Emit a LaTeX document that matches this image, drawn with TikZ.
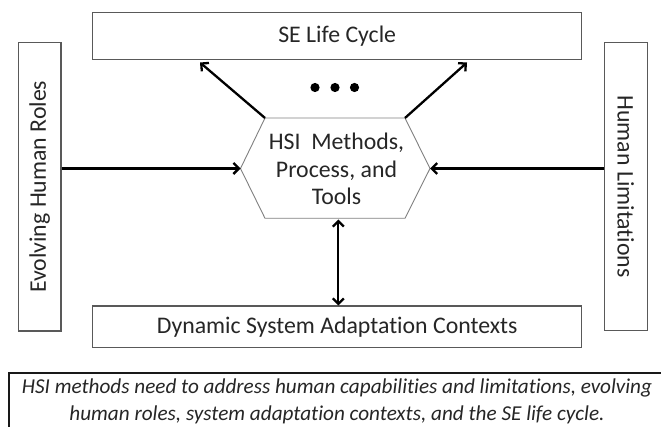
\documentclass[tikz,border=0pt]{standalone}
\usepackage{fontspec}
\setmainfont{Carlito}[Ligatures=NoCommon]
\usetikzlibrary{arrows.meta,calc}
\begin{document}
\begin{tikzpicture}[x=1pt,y=-1pt,
  box/.style={draw=black!65, line width=1.3pt, inner sep=0pt, text=black!85,
    font=\fontsize{23.8}{27.5}\selectfont},
  hexline/.style={draw=black!50, line width=0.9pt},
  arr/.style={line width=2.3pt, -{Straight Barb[length=5.5pt,width=11pt]}},
  arrboth/.style={line width=2.3pt, {Straight Barb[length=5.5pt,width=11pt]}-{Straight Barb[length=5.5pt,width=11pt]}},
  dot/.style={fill=black, draw=none}
]
\useasboundingbox (0,0) rectangle (661,427);
\fill[white] (0,0) rectangle (661,427);

% boxes
\node[box, minimum width=489pt, minimum height=46.6pt] (top) at (337.2,36) {SE Life Cycle};
\node[box, minimum width=489pt, minimum height=41.7pt] (bot) at (337.2,326.9) {Dynamic System Adaptation Contexts};
\node[box, rotate=90, minimum width=288.3pt, minimum height=42.7pt] (left) at (39.7,186.8) {Evolving Human Roles};
\node[box, rotate=-90, minimum width=288pt, minimum height=43pt] (right) at (625.8,186.7) {Human Limitations};

% hexagon
\coordinate (hl) at (240.5,168.5);
\coordinate (htl) at (265,118);
\coordinate (htr) at (405,118);
\coordinate (hr) at (430,168.5);
\coordinate (hbr) at (405,218.3);
\coordinate (hbl) at (265,218.3);
\draw[hexline] (hl) -- (htl) -- (htr) -- (hr) -- (hbr) -- (hbl) -- cycle;
\node[align=center, text=black!85, font=\fontsize{23.8}{27.5}\selectfont] (hsi) at (336.5,169)
  {HSI\ \ Methods,\\Process, and\\Tools};

% dots
\fill[dot] (315,87.5) circle (4.6pt);
\fill[dot] (335,87.5) circle (4.6pt);
\fill[dot] (354.5,87.5) circle (4.6pt);

% connectors
\coordinate (tipL) at (200,62.5);
\coordinate (tipR) at (467,62.5);
\draw[arr] (htl) -- (tipL);
\draw[arr] (htr) -- (tipR);
\draw[arr] (left.south |- hl) -- (hl);
\draw[arr] (right.south |- hr) -- (hr);
\coordinate (vtop) at (338.3,219.5);
\coordinate (vbot) at (338.3,305.5);
\draw[arrboth] (vtop) -- (vbot);

% caption
\draw[line width=2.2pt, black!90] (661,373.3) -- (9,373.3) -- (9,427);
\node[align=center, text=black!85, font=\fontsize{21.2}{27}\selectfont\itshape] (cap) at (337,401.5)
  {HSI methods need to address human capabilities and limitations, evolving\\human roles, system adaptation contexts, and the SE life cycle.};
\end{tikzpicture}
\end{document}
